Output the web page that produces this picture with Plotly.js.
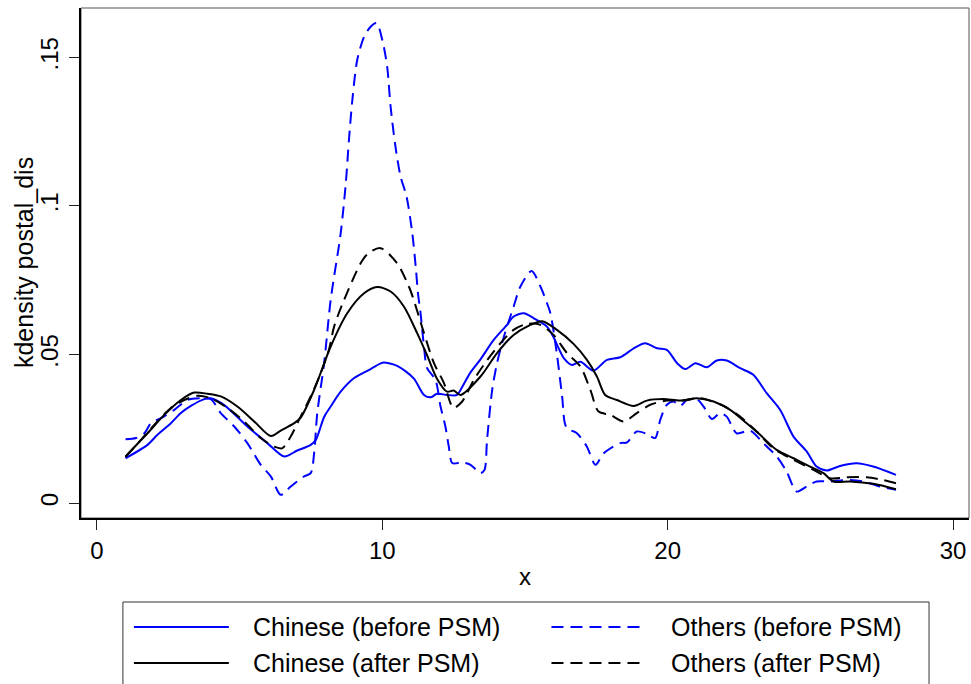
<!DOCTYPE html>
<html>
<head>
<meta charset="utf-8">
<script src="https://cdn.plot.ly/plotly-3.0.1.min.js"></script>
<style>html,body{margin:0;padding:0;background:#fff;}#chart{width:971px;height:684px;}</style>
</head>
<body>
<div id="chart"></div>
<script>
// ---- data ----
const seriesNames = ["Chinese (before PSM)", "Others (before PSM)", "Chinese (after PSM)", "Others (after PSM)"];
const yTitle = "kdensity postal_dis";
const xTitle = "x";

const chineseBeforeX = [1.0,1.77,2.12,2.59,2.94,3.29,3.76,3.99,4.46,5.27,5.97,6.56,7.02,7.49,7.67,7.96,8.19,8.54,9.0,9.59,9.94,10.05,10.52,11.1,11.46,11.69,11.92,12.27,12.62,12.74,13.09,13.44,13.91,14.37,14.6,14.96,15.31,15.77,16.0,16.36,16.65,16.94,17.4,17.87,18.34,18.81,19.21,19.63,19.97,20.33,20.62,20.97,21.37,21.72,22.07,22.54,23.0,23.47,23.94,24.41,24.87,25.22,25.57,26.04,26.62,27.2,28.0];
const chineseBeforeY = [0.0151,0.0196,0.0230,0.0269,0.0303,0.0327,0.0350,0.0353,0.0330,0.0258,0.0202,0.0157,0.0177,0.0196,0.0213,0.0290,0.0325,0.0375,0.0420,0.0451,0.0470,0.0473,0.0462,0.0420,0.0364,0.0356,0.0368,0.0364,0.0364,0.0381,0.0440,0.0484,0.0550,0.0600,0.0628,0.0639,0.0622,0.0594,0.0558,0.0488,0.0465,0.0476,0.0446,0.0482,0.0491,0.0521,0.0538,0.0521,0.0516,0.0471,0.0451,0.0471,0.0457,0.0480,0.0480,0.0454,0.0432,0.0370,0.0314,0.0224,0.0174,0.0123,0.0110,0.0125,0.0134,0.0123,0.0095];

const chineseAfterX = [1.0,1.77,2.36,2.94,3.41,3.87,4.34,4.92,5.51,6.09,6.44,6.91,7.14,7.61,8.19,8.77,9.36,9.82,10.29,10.76,11.22,11.57,11.92,12.27,12.5,12.74,13.44,14.02,14.6,15.07,15.6,16.12,16.71,17.17,17.52,17.81,18.22,18.81,19.27,19.85,20.44,21.02,21.61,22.19,22.77,23.24,23.82,24.41,24.99,25.46,25.81,26.39,27.2,28.0];
const chineseAfterY = [0.0157,0.0235,0.0297,0.0347,0.0372,0.0368,0.0359,0.0325,0.0275,0.0226,0.0244,0.0269,0.0288,0.0381,0.0527,0.0639,0.0706,0.0727,0.0712,0.0661,0.0572,0.0497,0.0418,0.0375,0.0379,0.0364,0.0426,0.0505,0.0566,0.0594,0.0612,0.0583,0.0535,0.0482,0.0426,0.0364,0.0347,0.0327,0.0345,0.0350,0.0345,0.0353,0.0342,0.0314,0.0269,0.0230,0.0179,0.0151,0.0123,0.0101,0.0073,0.0073,0.0065,0.0047];

const othersBeforeX = [1.0,1.37,1.66,1.89,2.24,2.71,3.17,3.64,3.99,4.34,4.81,5.27,5.74,6.09,6.44,6.79,7.26,7.49,7.61,7.72,7.96,8.19,8.54,8.72,8.83,8.95,9.12,9.36,9.59,9.8,10.0,10.17,10.29,10.46,10.64,10.85,11.05,11.17,11.25,11.34,11.46,11.57,11.86,12.04,12.21,12.33,12.45,12.8,13.09,13.44,13.58,13.67,13.85,14.02,14.26,14.6,14.84,15.23,15.54,15.77,15.89,16.12,16.3,16.45,16.82,17.17,17.47,17.76,18.34,18.57,18.92,19.27,19.56,19.74,19.97,20.21,20.44,20.67,21.02,21.26,21.55,21.84,22.07,22.42,22.89,23.35,23.82,24.17,24.52,24.87,25.22,25.69,26.27,26.85,27.44,28.0];
const othersBeforeY = [0.0215,0.0219,0.0235,0.0269,0.0286,0.0314,0.0347,0.0353,0.0350,0.0303,0.0258,0.0202,0.0129,0.0090,0.0028,0.0056,0.0090,0.0101,0.0168,0.0303,0.0471,0.0684,0.0908,0.1076,0.1222,0.1357,0.1491,0.1569,0.1603,0.1615,0.1558,0.1469,0.1334,0.1200,0.1099,0.1031,0.0908,0.0796,0.0706,0.0639,0.0527,0.0454,0.0415,0.0325,0.0258,0.0190,0.0135,0.0137,0.0129,0.0101,0.0112,0.0213,0.0381,0.0471,0.0560,0.0661,0.0729,0.0781,0.0729,0.0673,0.0639,0.0500,0.0360,0.0255,0.0235,0.0190,0.0129,0.0168,0.0202,0.0204,0.0241,0.0233,0.0219,0.0280,0.0331,0.0342,0.0327,0.0347,0.0350,0.0325,0.0283,0.0303,0.0291,0.0235,0.0244,0.0202,0.0157,0.0106,0.0039,0.0056,0.0073,0.0073,0.0078,0.0073,0.0056,0.0045];

const othersAfterX = [1.0,1.54,2.12,2.59,3.06,3.52,3.99,4.57,5.16,5.74,6.21,6.5,6.79,7.08,7.49,7.84,8.13,8.31,8.66,9.24,9.5,9.94,10.52,10.93,11.1,11.46,11.81,12.16,12.39,12.5,12.8,13.21,13.68,14.14,14.6,15.07,15.54,16.0,16.47,16.94,17.29,17.58,17.99,18.46,18.92,19.39,19.97,20.56,21.14,21.96,22.54,23.12,23.7,24.41,25.11,25.69,26.27,26.97,27.55,28.0];
const othersAfterY = [0.0155,0.0213,0.0275,0.0320,0.0347,0.0361,0.0353,0.0320,0.0275,0.0219,0.0190,0.0185,0.0224,0.0280,0.0359,0.0437,0.0516,0.0594,0.0684,0.0807,0.0840,0.0858,0.0807,0.0729,0.0684,0.0572,0.0471,0.0404,0.0336,0.0320,0.0342,0.0415,0.0482,0.0538,0.0583,0.0603,0.0600,0.0566,0.0505,0.0460,0.0381,0.0308,0.0297,0.0275,0.0303,0.0331,0.0345,0.0345,0.0353,0.0327,0.0291,0.0241,0.0185,0.0146,0.0112,0.0084,0.0087,0.0087,0.0078,0.0067];

const xTickVals = [0, 10, 20, 30];
const yTickVals = [0, 0.05, 0.1, 0.15];
const yTickText = ["0", ".05", ".1", ".15"];

// ---- styles ----
const FONT = "Liberation Sans, Arial, Helvetica, sans-serif";
const BLUE = "rgb(0,0,255)";
const BLACK = "rgb(0,0,0)";
const DASH = "12px,7px";
const styles = [
  {color: BLUE, dash: "solid"},
  {color: BLUE, dash: DASH},
  {color: BLACK, dash: "solid"},
  {color: BLACK, dash: DASH}
];
const xs = [chineseBeforeX, othersBeforeX, chineseAfterX, othersAfterX];
const ys = [chineseBeforeY, othersBeforeY, chineseAfterY, othersAfterY];

const drawOrder = [0, 1, 3, 2];
const traces = drawOrder.map(i => ({
  type: "scatter", mode: "lines", name: seriesNames[i],
  x: xs[i], y: ys[i],
  line: {color: styles[i].color, width: 2, dash: styles[i].dash, shape: "spline", smoothing: 0.8},
  showlegend: false, hoverinfo: "skip"
}));

// ---- manual legend (two columns, two rows) ----
const shapes = [
  {type: "rect", xref: "paper", yref: "paper", x0: 0, x1: 1, y0: 0, y1: 1,
   line: {color: "#555", width: 1}, layer: "below"},
  {type: "rect", xref: "paper", yref: "paper", x0: 0.0472, x1: 0.955, y0: -0.40, y1: -0.1647,
   line: {color: "#333", width: 1}, fillcolor: "rgba(0,0,0,0)"}
];
const annotations = [
  {xref: "paper", yref: "paper", x: -0.0641, y: 0.5, xanchor: "center", yanchor: "middle",
   textangle: -90, text: yTitle, showarrow: false, font: {family: FONT, size: 25, color: "#000"}}
];
const colX = [[0.0596, 0.1665, 0.1914], [0.5298, 0.6355, 0.6621]];
const rowY = [-0.2137, -0.2843];
seriesNames.forEach((name, i) => {
  const c = colX[i % 2], r = rowY[Math.floor(i / 2)];
  shapes.push({type: "line", xref: "paper", yref: "paper", x0: c[0], x1: c[1], y0: r, y1: r,
    line: {color: styles[i].color, width: 2, dash: styles[i].dash}});
  annotations.push({xref: "paper", yref: "paper", x: c[2], y: r, xanchor: "left", yanchor: "middle",
    text: name, showarrow: false, font: {family: FONT, size: 25, color: "#000"}});
});

const layout = {
  width: 971, height: 684,
  margin: {l: 81, r: 2, t: 8, b: 166, pad: 0},
  paper_bgcolor: "#fff", plot_bgcolor: "#fff",
  showlegend: false,
  font: {family: FONT, size: 24, color: "#000"},
  xaxis: {
    range: [-0.56, 30.56], tickvals: xTickVals, ticks: "outside", ticklen: 10, tickwidth: 1, tickcolor: "#222",
    showline: true, linewidth: 2, linecolor: "#000", showgrid: false, zeroline: false,
    tickfont: {family: FONT, size: 24, color: "#000"},
    title: {text: xTitle, font: {family: FONT, size: 24, color: "#000"}, standoff: 5}
  },
  yaxis: {
    range: [-0.005, 0.1666], tickvals: yTickVals, ticktext: yTickText, tickangle: -90,
    ticks: "outside", ticklen: 10, tickwidth: 1, tickcolor: "#222", ticklabelstandoff: 1,
    showline: true, linewidth: 2, linecolor: "#000", showgrid: false, zeroline: false,
    tickfont: {family: FONT, size: 24, color: "#000"}
  },
  shapes: shapes,
  annotations: annotations
};

Plotly.newPlot("chart", traces, layout, {displayModeBar: false, staticPlot: true});
</script>
</body>
</html>
